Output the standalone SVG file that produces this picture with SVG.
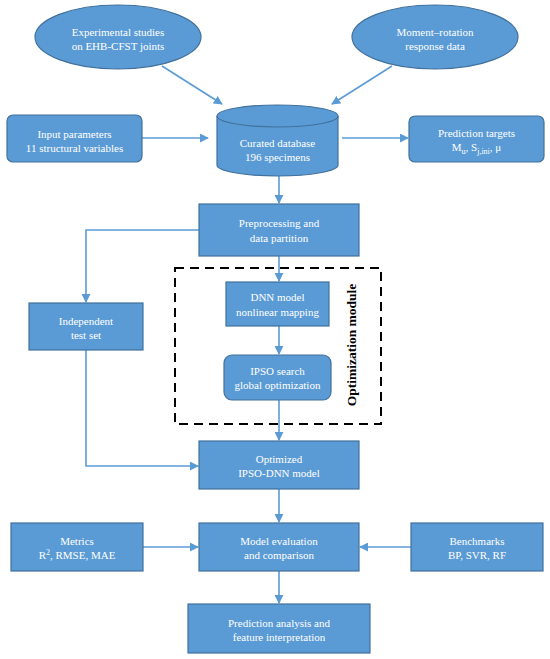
<svg xmlns="http://www.w3.org/2000/svg" width="550" height="659" viewBox="0 0 550 659">
<defs>
<marker id="ah" viewBox="0 0 10 10" refX="9" refY="5" markerWidth="9" markerHeight="9" markerUnits="userSpaceOnUse" orient="auto"><path d="M0,0 L10,5 L0,10 z" fill="#5B9BD5"/></marker>
<style>
.nd{fill:#5B9BD5;stroke:#41719C;stroke-width:1.2}
.wt{font-family:'Liberation Serif','Times New Roman',serif;font-size:11px;fill:#ffffff;text-anchor:middle}
.cn{fill:none;stroke:#5B9BD5;stroke-width:1.6;marker-end:url(#ah)}
.lbl{font-family:'Liberation Serif','Times New Roman',serif;font-size:13.5px;font-weight:bold;fill:#000;text-anchor:middle}
</style>
</defs>
<rect width="550" height="659" fill="#fff"/>
<g id="connectors">
<path class="cn" d="M162,66 L222,104"/>
<path class="cn" d="M392,66 L332,104"/>
<path class="cn" d="M142,138 L208,138"/>
<path class="cn" d="M342,138 L408,138"/>
<path class="cn" d="M279,176 L279,203"/>
<path class="cn" d="M199,230 L86,230 L86,302"/>
<path class="cn" d="M86,350 L86,466 L198,466"/>
<path class="cn" d="M279,256 L279,281"/>
<path class="cn" d="M279,326 L279,354"/>
<path class="cn" d="M279,400 L279,440"/>
<path class="cn" d="M279,489 L279,522"/>
<path class="cn" d="M143,547 L198,547"/>
<path class="cn" d="M411,547 L360,547"/>
<path class="cn" d="M279,571 L279,603"/>
</g>
<g id="opt-module">
<rect x="175" y="268" width="206" height="156" fill="none" stroke="#000" stroke-width="2" stroke-dasharray="9,6"/>
<text class="lbl" transform="translate(356,345) rotate(-90)">Optimization module</text>
</g>
<g id="exp"><ellipse class="nd" cx="118" cy="37" rx="83" ry="32"/><text class="wt" x="118" y="36">Experimental studies</text><text class="wt" x="118" y="50">on EHB-CFST joints</text></g>
<g id="mr"><ellipse class="nd" cx="435" cy="37" rx="83" ry="32"/><text class="wt" x="435" y="36">Moment–rotation</text><text class="wt" x="435" y="50">response data</text></g>
<g id="input"><rect class="nd" x="7" y="115" width="135" height="47" rx="6"/><text class="wt" x="74.5" y="138">Input parameters</text><text class="wt" x="74.5" y="152">11 structural variables</text></g>
<g id="db"><path class="nd" d="M217,116 A60.5,11 0 0 1 338,116 L338,165 A60.5,11 0 0 1 217,165 Z"/><path d="M217,116 A60.5,11 0 0 0 338,116" fill="none" stroke="#41719C" stroke-width="1.2"/><text class="wt" x="277.5" y="147">Curated database</text><text class="wt" x="277.5" y="161">196 specimens</text></g>
<g id="targets"><rect class="nd" x="409" y="116" width="135" height="46" rx="6"/><text class="wt" x="476.5" y="137">Prediction targets</text><text class="wt" x="476.5" y="151">M<tspan font-size="8" dy="3">u</tspan><tspan dy="-3">, S</tspan><tspan font-size="8" dy="3">j,ini</tspan><tspan dy="-3">, μ</tspan></text></g>
<g id="prep"><rect class="nd" x="199" y="204" width="160" height="52"/><text class="wt" x="279" y="227">Preprocessing and</text><text class="wt" x="279" y="242">data partition</text></g>
<g id="dnn"><rect class="nd" x="226" y="282" width="103" height="44"/><text class="wt" x="277.5" y="301">DNN model</text><text class="wt" x="277.5" y="316">nonlinear mapping</text></g>
<g id="ipso"><rect class="nd" x="224" y="355" width="107" height="45" rx="8"/><text class="wt" x="277.5" y="375">IPSO search</text><text class="wt" x="277.5" y="389">global optimization</text></g>
<g id="test"><rect class="nd" x="29" y="303" width="114" height="47"/><text class="wt" x="86" y="325">Independent</text><text class="wt" x="86" y="339">test set</text></g>
<g id="optimized"><rect class="nd" x="199" y="441" width="160" height="48"/><text class="wt" x="279" y="463">Optimized</text><text class="wt" x="279" y="477">IPSO-DNN model</text></g>
<g id="metrics"><rect class="nd" x="11" y="523" width="132" height="48"/><text class="wt" x="77" y="545">Metrics</text><text class="wt" x="77" y="559">R<tspan font-size="8" dy="-4">2</tspan><tspan dy="4">, RMSE, MAE</tspan></text></g>
<g id="eval"><rect class="nd" x="199" y="523" width="160" height="48"/><text class="wt" x="279" y="545">Model evaluation</text><text class="wt" x="279" y="559">and comparison</text></g>
<g id="bench"><rect class="nd" x="411" y="523" width="132" height="48"/><text class="wt" x="477" y="545">Benchmarks</text><text class="wt" x="477" y="559">BP, SVR, RF</text></g>
<g id="pred"><rect class="nd" x="188" y="604" width="182" height="49"/><text class="wt" x="279" y="627">Prediction analysis and</text><text class="wt" x="279" y="641">feature interpretation</text></g>
</svg>
